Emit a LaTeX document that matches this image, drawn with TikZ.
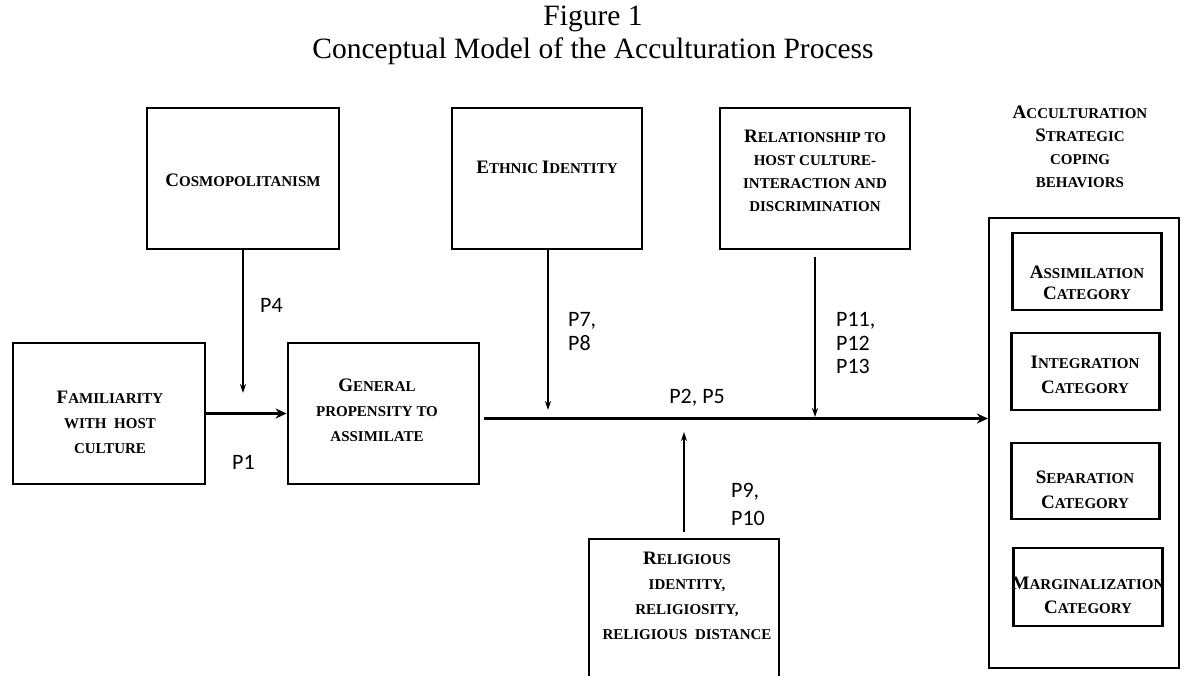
\documentclass[tikz,border=0pt]{standalone}
\usepackage{fontspec}
\setmainfont{Liberation Serif}
\newfontfamily\pfont{Carlito}
\usetikzlibrary{arrows.meta}
\newcommand\bigc[1]{{\fontsize{19}{19}\selectfont #1}}
\begin{document}
\begin{tikzpicture}[x=1pt,y=-1pt,
  box/.style={draw, line width=2.8pt, inner sep=0pt},
  btext/.style={font=\bfseries\fontsize{15}{25}\selectfont, align=center, inner sep=0pt},
  plab/.style={font=\pfont\fontsize{22}{23.5}\selectfont, align=left, inner sep=0pt, anchor=west},
  thinarrow/.style={line width=1.5pt, -{Stealth[length=9pt,width=6pt]}},
  thickarrow/.style={line width=3pt, -{Stealth[length=11pt,width=10pt]}},
  titlefont/.style={font=\fontsize{29.5}{32}\selectfont, anchor=base, inner sep=0pt}
]
\useasboundingbox (0,0) rectangle (1186,676);
\clip (0,0) rectangle (1186,676);

% title
\node[titlefont] (fig) at (593,26) {Figure 1};
\node[titlefont] (cap) at (593,59) {Conceptual Model of the Acculturation Process};

% boxes
\node[box, minimum width=192pt, minimum height=141pt] (cosmo) at (243,178.5) {};
\node[box, minimum width=190pt, minimum height=141pt] (ethnic) at (547,178.5) {};
\node[box, minimum width=190pt, minimum height=141pt] (rel) at (815,178.5) {};
\node[box, minimum width=192pt, minimum height=141pt] (fam) at (109,413.5) {};
\node[box, minimum width=191pt, minimum height=141pt] (gen) at (383.5,413.5) {};
\node[box, minimum width=190pt, minimum height=160pt] (relig) at (684,619) {};
\node[draw, line width=2.2pt, minimum width=190pt, minimum height=450pt, inner sep=0pt] (outer) at (1084,443) {};
\node[box, minimum width=149pt, minimum height=77pt] (assim) at (1087,271.5) {};
\node[box, minimum width=148pt, minimum height=77pt] (integ) at (1085.5,371.5) {};
\node[box, minimum width=148pt, minimum height=76pt] (sep) at (1085.5,481) {};
\node[box, minimum width=149pt, minimum height=78pt] (marg) at (1088,587) {};

% box texts
\node[btext] (cosmoT) at (243,180) {\bigc{C}OSMOPOLITANISM};
\node[btext] (ethnicT) at (547,167) {\bigc{E}THNIC \bigc{I}DENTITY};
\node[btext, font=\bfseries\fontsize{15}{23}\selectfont] (relT) at (815,170.5) {\bigc{R}ELATIONSHIP TO\\HOST CULTURE-\\INTERACTION AND\\DISCRIMINATION};
\node[btext] (famT) at (110,422) {\bigc{F}AMILIARITY\\WITH\ \ HOST\\CULTURE};
\node[btext] (genT) at (377,410.5) {\bigc{G}ENERAL\\PROPENSITY TO\\ASSIMILATE};
\node[btext] (religT) at (687,596) {\bigc{R}ELIGIOUS\\IDENTITY,\\RELIGIOSITY,\\RELIGIOUS\ \ DISTANCE};
\node[btext, font=\bfseries\fontsize{15}{23}\selectfont] (headT) at (1080,147) {\bigc{A}CCULTURATION\\\bigc{S}TRATEGIC\\COPING\\BEHAVIORS};
\node[btext, font=\bfseries\fontsize{15}{21}\selectfont] (assimT) at (1087,283) {\bigc{A}SSIMILATION\\\bigc{C}ATEGORY};
\node[btext] (integT) at (1085,374.5) {\bigc{I}NTEGRATION\\\bigc{C}ATEGORY};
\node[btext] (sepT) at (1085,489.5) {\bigc{S}EPARATION\\\bigc{C}ATEGORY};
\node[btext, font=\bfseries\fontsize{15}{24}\selectfont] (margT) at (1088,595) {\bigc{M}ARGINALIZATION\\\bigc{C}ATEGORY};

% coordinates
\coordinate (cosmoEnd) at (243,393);
\coordinate (ethnicEnd) at (548,410);
\coordinate (relStart) at (815,257);
\coordinate (relEnd) at (815,417);
\coordinate (religStart) at (684,532);
\coordinate (religEnd) at (684,432);
\coordinate (mainStart) at (484,418.5);

% connectors
\draw[thickarrow] (fam.east) -- (gen.west);
\draw[thickarrow] (mainStart) -- (mainStart -| outer.west);
\draw[thinarrow] (cosmo.south) -- (cosmoEnd);
\draw[thinarrow] (ethnic.south -| ethnicEnd) -- (ethnicEnd);
\draw[thinarrow] (relStart) -- (relEnd);
\draw[thinarrow] (religStart) -- (religEnd);

% labels
\node[plab] (p4) at (260,305) {P4};
\node[plab] (p78) at (568,331.5) {P7,\\P8};
\node[plab] (p1113) at (836,343) {P11,\\P12\\P13};
\node[plab] (p1) at (232,462) {P1};
\node[plab, anchor=center] (p25) at (697,398) {P2, P5};
\node[plab, font=\pfont\fontsize{22}{28}\selectfont] (p910) at (731,504) {P9,\\P10};
\end{tikzpicture}
\end{document}
